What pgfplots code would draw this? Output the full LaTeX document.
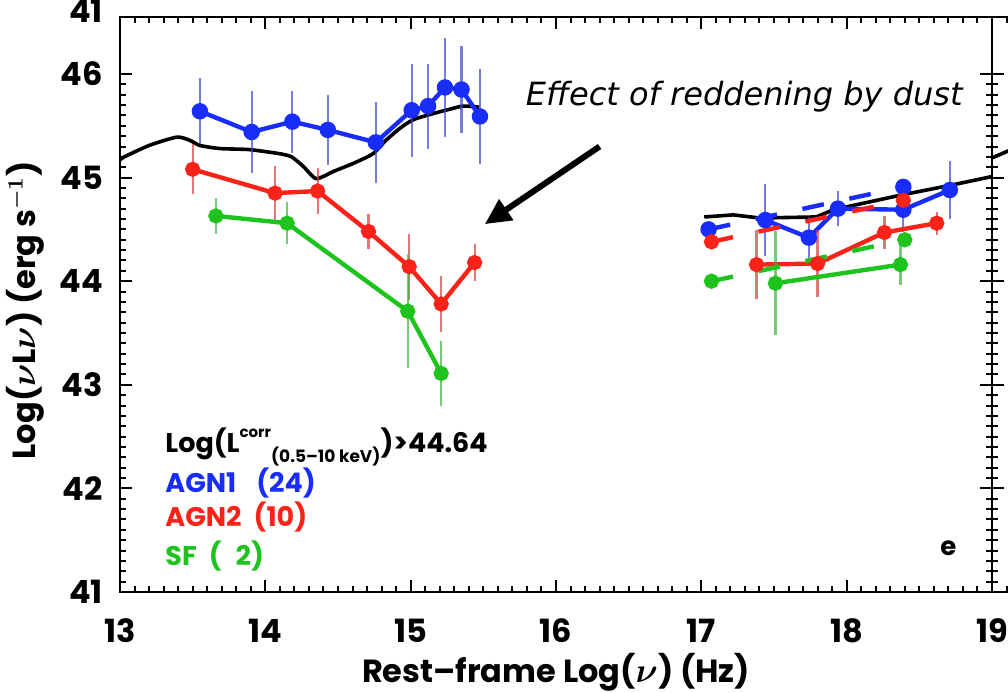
\documentclass[border=0pt]{standalone}
\usepackage{bm}
\usepackage{fontspec}
\setmainfont{Poppins}
\newfontfamily\dejavu{DejaVu Sans}
\usepackage{pgfplots}
\pgfplotsset{compat=1.18}
\usetikzlibrary{arrows.meta}
\definecolor{cblue}{RGB}{25,45,250}
\definecolor{cred}{RGB}{250,35,25}
\definecolor{cgreen}{RGB}{30,195,30}
\definecolor{eblue}{RGB}{60,70,200}
\definecolor{ered}{RGB}{215,60,60}
\definecolor{egreen}{RGB}{60,180,60}
\pgfplotsset{
  panel/.style={scale only axis, width=436pt, height=287.5pt,
    xmin=13, xmax=19, ymin=41, ymax=46.55,
    xtick={13,...,19}, ytick={41,...,46},
    minor x tick num=9, minor y tick num=9,
    tick align=inside, major tick length=6pt, minor tick length=3pt,
    axis line style={line width=1.2pt},
    every tick/.style={black, line width=1pt},
    /pgf/number format/assume math mode=true,
    tick label style={font=\bfseries\fontsize{16}{18}\selectfont},
  },
  eb/.style={error bars/.cd, y dir=both, y explicit, error mark=none,
    error bar style={line width=1.1pt, color=#1, opacity=0.7}},
}
\begin{document}
\begin{tikzpicture}
\begin{axis}[panel, name=ax, at={(0,0)}, anchor=south west, clip=false,
  xticklabel style={yshift=-10pt},
  yticklabel style={xshift=-5pt},
  xlabel={Rest--frame Log($\bm{\nu}$) (Hz)},
  ylabel={Log($\bm{\nu}$L$\bm{\nu}$) (erg s$^{\bm{-1}}$)},
  label style={font=\bfseries\fontsize{16}{18}\selectfont},
  xlabel style={at={(axis description cs:0.5,-0.139)}, anchor=center},
  ylabel style={at={(axis description cs:-0.109,0.49)}, anchor=center},
]
% template (black)
\addplot[black, line width=1.8pt, smooth, tension=0.4] coordinates {
(13.0,45.17)(13.03,45.20)(13.2,45.31)(13.39,45.39)(13.48,45.36)(13.55,45.31)(13.69,45.28)(13.89,45.27)(14.10,45.23)(14.18,45.20)(14.26,45.11)(14.35,44.99)(14.47,45.06)(14.61,45.14)(14.74,45.23)(14.83,45.36)(14.93,45.48)(15.02,45.56)(15.16,45.62)(15.27,45.66)(15.36,45.69)(15.47,45.68)};
\addplot[black, line width=1.8pt] coordinates {
(17.02,44.62)(17.22,44.64)(17.40,44.61)(17.79,44.62)(17.91,44.69)(18.37,44.83)(18.73,44.93)(19.0,45.01)};
% AGN1
\addplot[cblue, line width=2.2pt, mark=*, mark size=3pt, eb=eblue] coordinates {
(13.55,45.64) +- (0,0.32)
(13.906,45.44) +- (0,0.40)
(14.186,45.54) +- (0,0.30)
(14.43,45.46) +- (0,0.34)
(14.76,45.34) +- (0,0.39)
(15.007,45.65) +- (0,0.45)
(15.12,45.69) +- (0,0.41)
(15.236,45.87) +- (0,0.48)
(15.35,45.85) +- (0,0.42)
(15.477,45.59) +- (0,0.46)};
\addplot[cblue, line width=2.2pt, mark=*, mark size=3pt, eb=eblue] coordinates {
(17.44,44.59) +- (0,0.35)
(17.74,44.42) +- (0,0.20)
(17.94,44.70) +- (0,0.17)
(18.39,44.69) +- (0,0.22)
(18.71,44.88) +- (0,0.28)};
\addplot[cblue, line width=2.2pt, dash pattern=on 11pt off 13pt, mark=*, mark size=3pt, mark options={solid}] coordinates {
(17.05,44.50)(18.39,44.91)};
% AGN2
\addplot[cred, line width=2.2pt, mark=*, mark size=2.7pt, eb=ered] coordinates {
(13.50,45.08) +- (0,0.24)
(14.067,44.85) +- (0,0.26)
(14.36,44.87) +- (0,0.22)
(14.71,44.48) +- (0,0.17)
(14.99,44.14) +- (0,0.32)
(15.21,43.78) +- (0,0.27)
(15.44,44.18) +- (0,0.18)};
\addplot[cred, line width=2.2pt, mark=*, mark size=2.7pt, eb=ered] coordinates {
(17.38,44.16) +- (0,0.33)
(17.80,44.17) +- (0,0.32)
(18.26,44.47) +- (0,0.16)
(18.62,44.56) +- (0,0.11)};
\addplot[cred, line width=2.2pt, dash pattern=on 11pt off 13pt, mark=*, mark size=2.7pt, mark options={solid}] coordinates {
(17.07,44.38)(18.39,44.78)};
% SF
\addplot[cgreen, line width=2.2pt, mark=*, mark size=2.7pt, eb=egreen] coordinates {
(13.66,44.63) +- (0,0.17)
(14.15,44.56) +- (0,0.20)
(14.98,43.71) +- (0,0.55)
(15.21,43.11) +- (0,0.31)};
\addplot[cgreen, line width=2.2pt, mark=*, mark size=2.7pt, eb=egreen] coordinates {
(17.51,43.98) +- (0,0.50)
(18.37,44.16) +- (0,0.20)};
\addplot[cgreen, line width=2.2pt, dash pattern=on 11pt off 13pt, mark=*, mark size=2.7pt, mark options={solid}] coordinates {
(17.07,44.00)(18.40,44.40)};
% annotations
\node[anchor=west, inner sep=0, font={\dejavu\itshape\fontsize{16}{18}\selectfont}] at (axis cs:15.79,45.78) {Effect of reddening by dust};
\draw[-{Triangle[length=13pt,width=12pt]}, line width=3pt] (axis cs:16.30,45.30) -- (axis cs:15.51,44.55);
\node[anchor=base west, inner sep=0, font=\bfseries\fontsize{13.5}{15}\selectfont] at (axis cs:13.31,42.35)
  {Log(L\raisebox{1.0ex}{\fontsize{7.5}{8}\selectfont corr}\raisebox{-0.7ex}{\fontsize{8.5}{9}\selectfont (0.5--10 keV)})>44.64};
\node[anchor=base west, inner sep=0, text=cblue, font=\bfseries\fontsize{13.5}{15}\selectfont] at (axis cs:13.31,41.96) {AGN1\hspace{10pt}(24)};
\node[anchor=base west, inner sep=0, text=cred, font=\bfseries\fontsize{13.5}{15}\selectfont] at (axis cs:13.31,41.63) {AGN2\hspace{6pt}(10)};
\node[anchor=base west, inner sep=0, text=cgreen, font=\bfseries\fontsize{13.5}{15}\selectfont] at (axis cs:13.31,41.26) {SF\hspace{6pt}(\hspace{7pt}2)};
\node[font=\bfseries\fontsize{13}{14}\selectfont] at (axis cs:18.70,41.42) {e};
\node[anchor=east, font=\bfseries\fontsize{16}{18}\selectfont] at ([xshift=-5pt,yshift=3pt]axis description cs:0,1) {41};
\end{axis}
% adjacent panel (only its edge is visible)
\begin{axis}[panel, at={(436pt,0)}, anchor=south west, yticklabels={}, xticklabels={}]
\addplot[black, line width=1.8pt] coordinates {(13.0,45.19)(13.1,45.25)(13.2,45.31)};
\end{axis}
\pgfresetboundingbox
\path[use as bounding box] (-60pt,-50pt) rectangle (444pt,296pt);
\end{tikzpicture}
\end{document}
